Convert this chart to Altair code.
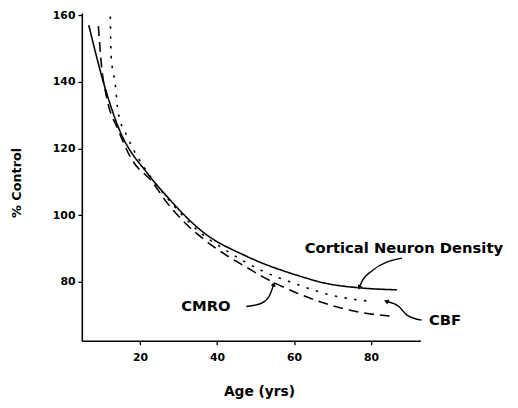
import altair as alt
import pandas as pd

# Cortical Neuron Density (solid)
cnd_x = [6.7, 10.5, 14.3, 22.0, 26.3, 36.6, 47.6, 60.4, 68.9, 77.0, 86.7]
cnd_y = [157.0, 139.9, 126.6, 112.4, 106.5, 94.7, 87.7, 82.1, 79.4, 78.2, 77.6]
# CBF (dotted)
cbf_x = [12.3, 12.5, 13.6, 14.3, 16.9, 22.5, 27.1, 34.8, 43.2, 51.9, 60.4, 68.9, 80.1]
cbf_y = [159.6, 147.8, 139.0, 131.0, 123.1, 111.9, 105.1, 95.6, 88.8, 83.2, 79.4, 76.2, 74.1]
# CMRO (dashed)
cmro_x = [9.2, 10.0, 11.3, 14.3, 17.6, 23.3, 27.1, 32.2, 37.3, 43.2, 47.6, 51.9, 60.4, 68.9, 77.5, 85.2]
cmro_y = [156.7, 144.9, 135.5, 125.7, 117.2, 109.8, 103.6, 97.1, 92.1, 87.4, 84.4, 81.5, 76.8, 73.2, 70.8, 69.7]

series_names = ["Cortical Neuron Density", "CBF", "CMRO"]
x_ticks = [20, 40, 60, 80]
y_ticks = [80, 100, 120, 140, 160]

# annotation labels (data coordinates)
label_text = ["Cortical Neuron Density", "CMRO", "CBF"]
label_x = [88.5, 37.1, 99.2]
label_y = [90.0, 72.6, 68.5]

# annotation arrows (data coordinates)
arrow_id = ["a"] * 4 + ["b"] * 4 + ["c"] * 4
arrow_x = [88.0, 80.1, 77.7, 77.0, 47.6, 51.4, 53.5, 54.7, 93.1, 89.3, 87.2, 84.1]
arrow_y = [87.1, 83.2, 80.3, 78.5, 72.6, 73.5, 75.6, 79.1, 68.5, 70.0, 72.6, 74.1]
head_x = [77.0, 54.7, 84.1]
head_y = [78.5, 79.1, 74.1]
head_angle = [207, 23, 290]

rows = []
for name, xs, ys in [(series_names[0], cnd_x, cnd_y), (series_names[1], cbf_x, cbf_y), (series_names[2], cmro_x, cmro_y)]:
    for i, (a, b) in enumerate(zip(xs, ys)):
        rows.append({"series": name, "age": a, "pct": b, "order": i})
df = pd.DataFrame(rows)

labels_df = pd.DataFrame({"text": label_text, "age": label_x, "pct": label_y})
arrows_df = pd.DataFrame({"id": arrow_id, "age": arrow_x, "pct": arrow_y, "order": list(range(12))})
heads_df = pd.DataFrame({"age": head_x, "pct": head_y, "angle": head_angle})

FONT = "DejaVu Sans"

xscale = alt.Scale(domain=[4.9, 92.8], nice=False, zero=False)
yscale = alt.Scale(domain=[62.3, 160.6], nice=False, zero=False)

xaxis = alt.Axis(values=x_ticks, title="Age (yrs)", grid=False, titleX=180, titleY=52,
                 titleAlign="center", titleBaseline="middle", labelPadding=7)
yaxis = alt.Axis(values=y_ticks, title="% Control", grid=False, titleX=-66, titleY=172,
                 titleAngle=-90, titleAlign="center", titleBaseline="middle", labelPadding=3,
                 titleFontSize=13)

lines = alt.Chart(df).mark_line(color="black", strokeWidth=1.6, interpolate="monotone").encode(
    x=alt.X("age:Q", scale=xscale, axis=xaxis),
    y=alt.Y("pct:Q", scale=yscale, axis=yaxis),
    detail="series:N",
    order="order:Q",
    strokeDash=alt.StrokeDash("series:N", scale=alt.Scale(domain=series_names,
                              range=[[1, 0], [2.5, 7.5], [10, 6]]), legend=None),
)

arrows = alt.Chart(arrows_df).mark_line(color="black", strokeWidth=1.4, interpolate="monotone").encode(
    x=alt.X("age:Q", scale=xscale),
    y=alt.Y("pct:Q", scale=yscale),
    detail="id:N",
    order="order:Q",
)

heads = alt.Chart(heads_df).mark_point(shape="triangle", filled=True, color="black", size=28, opacity=1).encode(
    x=alt.X("age:Q", scale=xscale),
    y=alt.Y("pct:Q", scale=yscale),
    angle=alt.Angle("angle:Q", scale=None),
)

texts = alt.Chart(labels_df).mark_text(font=FONT, fontSize=15, fontWeight="bold", color="black",
                                       align="center", baseline="middle").encode(
    x=alt.X("age:Q", scale=xscale),
    y=alt.Y("pct:Q", scale=yscale),
    text="text:N",
)

chart = alt.layer(lines, arrows, heads, texts).properties(
    width=344, height=333,
    autosize=alt.AutoSizeParams(type="none"),
    padding={"left": 75, "top": 2, "right": 91, "bottom": 60},
).configure_view(stroke=None).configure_axis(
    domainColor="black", domainWidth=1.6, tickColor="black", tickWidth=1.3, tickSize=4,
    labelFont=FONT, labelFontSize=11, labelFontWeight="bold", labelColor="black",
    titleFont=FONT, titleFontSize=14, titleFontWeight="bold", titleColor="black",
)

chart.save("out.html", embed_options={"renderer": "svg", "actions": False})
